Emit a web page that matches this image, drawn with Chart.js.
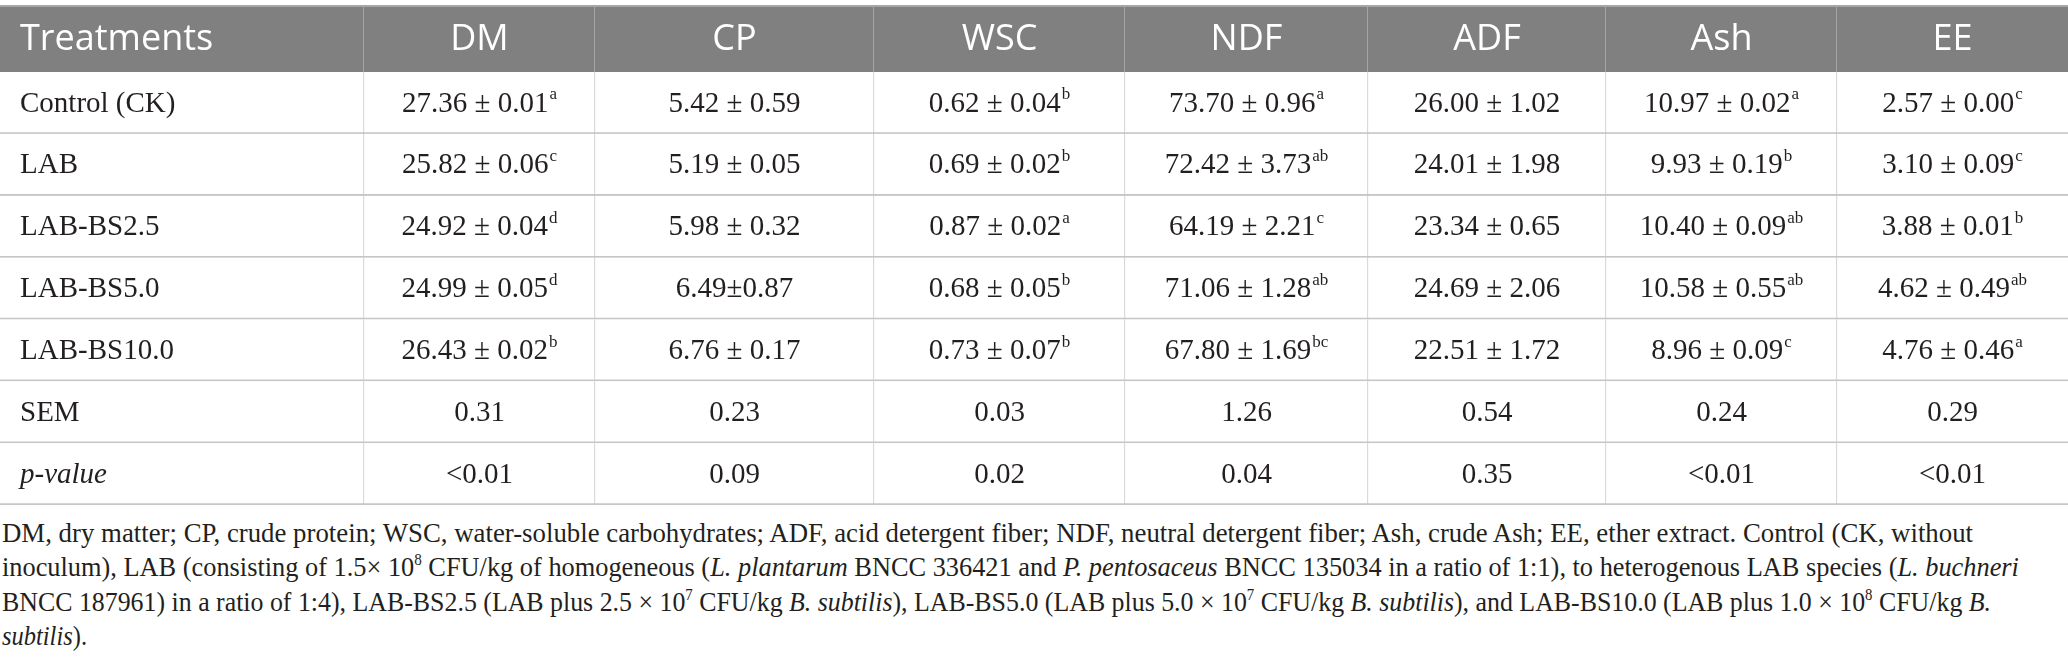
<!DOCTYPE html>
<html>
<head>
<meta charset="utf-8">
<script src="https://cdn.jsdelivr.net/npm/chart.js@4/dist/chart.umd.min.js"></script>
<style>
  html, body { margin: 0; padding: 0; background: #fff; }
  body { width: 2068px; height: 667px; overflow: hidden; position: relative; }
  #wrap { position: absolute; left: 0; top: 0; width: 2068px; height: 506px; }
  .note {
    position: absolute; left: 2px; height: 34px; display: inline-block;
    font-family: 'Liberation Serif', serif; font-size: 28px; line-height: 34px;
    color: #231f20; white-space: nowrap; transform-origin: 0 50%;
  }
  .note sup { font-size: 16px; vertical-align: 11px; line-height: 0; }
</style>
</head>
<body>
<div id="wrap"><canvas id="tableChart"></canvas></div>
<div class="note" style="top:516px">DM, dry matter; CP, crude protein; WSC, water-soluble carbohydrates; ADF, acid detergent fiber; NDF, neutral detergent fiber; Ash, crude Ash; EE, ether extract. Control (CK, without</div>
<div class="note" style="top:550px">inoculum), LAB (consisting of 1.5× 10<sup>8</sup> CFU/kg of homogeneous (<i>L. plantarum</i> BNCC 336421 and <i>P. pentosaceus</i> BNCC 135034 in a ratio of 1:1), to heterogenous LAB species (<i>L. buchneri</i></div>
<div class="note" style="top:585px">BNCC 187961) in a ratio of 1:4), LAB-BS2.5 (LAB plus 2.5 × 10<sup>7</sup> CFU/kg <i>B. subtilis</i>), LAB-BS5.0 (LAB plus 5.0 × 10<sup>7</sup> CFU/kg <i>B. subtilis</i>), and LAB-BS10.0 (LAB plus 1.0 × 10<sup>8</sup> CFU/kg <i>B.</i></div>
<div class="note" style="top:619px"><i>subtilis</i>).</div>
<script>
// ===== table data =====
const columns = ['Treatments', 'DM', 'CP', 'WSC', 'NDF', 'ADF', 'Ash', 'EE'];
const treatments = ['Control (CK)', 'LAB', 'LAB-BS2.5', 'LAB-BS5.0', 'LAB-BS10.0'];

const dmMean = [27.36, 25.82, 24.92, 24.99, 26.43];
const dmSd = [0.01, 0.06, 0.04, 0.05, 0.02];
const dmSig = ['a', 'c', 'd', 'd', 'b'];

const cpMean = [5.42, 5.19, 5.98, 6.49, 6.76];
const cpSd = [0.59, 0.05, 0.32, 0.87, 0.17];
const cpSig = ['', '', '', '', ''];

const wscMean = [0.62, 0.69, 0.87, 0.68, 0.73];
const wscSd = [0.04, 0.02, 0.02, 0.05, 0.07];
const wscSig = ['b', 'b', 'a', 'b', 'b'];

const ndfMean = [73.70, 72.42, 64.19, 71.06, 67.80];
const ndfSd = [0.96, 3.73, 2.21, 1.28, 1.69];
const ndfSig = ['a', 'ab', 'c', 'ab', 'bc'];

const adfMean = [26.00, 24.01, 23.34, 24.69, 22.51];
const adfSd = [1.02, 1.98, 0.65, 2.06, 1.72];
const adfSig = ['', '', '', '', ''];

const ashMean = [10.97, 9.93, 10.40, 10.58, 8.96];
const ashSd = [0.02, 0.19, 0.09, 0.55, 0.09];
const ashSig = ['a', 'b', 'ab', 'ab', 'c'];

const eeMean = [2.57, 3.10, 3.88, 4.62, 4.76];
const eeSd = [0.00, 0.09, 0.01, 0.49, 0.46];
const eeSig = ['c', 'c', 'b', 'ab', 'a'];

const sem = [0.31, 0.23, 0.03, 1.26, 0.54, 0.24, 0.29];
const pValue = ['<0.01', '0.09', '0.02', '0.04', '0.35', '<0.01', '<0.01'];

// the one cell printed without spaces round ±
const compactCells = [['CP', 3]];

// ===== layout =====
const colWidths = [364, 231, 279, 251, 243, 238, 231, 231];
const headTop = 6;      // top edge of the grey header band
const headBottom = 72;  // where the body rows start
const headFill = '#808080';
const headLine = '#a6a6a6';
const bodyLine = '#c6c6c6';
const inkColor = '#231f20';
const noteEnds = [1973, 2019, 1991, 87];  // right end of each footnote line

const means = [dmMean, cpMean, wscMean, ndfMean, adfMean, ashMean, eeMean];
const sds = [dmSd, cpSd, wscSd, ndfSd, adfSd, ashSd, eeSd];
const sigs = [dmSig, cpSig, wscSig, ndfSig, adfSig, ashSig, eeSig];

const rowLabels = [...treatments, 'SEM', 'p-value'];

// body cell text, r = body row, c = column (0 is the label column)
function cellAt(r, c) {
    if (c === 0) return { text: rowLabels[r], italic: rowLabels[r] === 'p-value' };
    const k = c - 1;
    if (r < treatments.length) {
        const compact = compactCells.some(p => p[0] === columns[c] && p[1] === r);
        const pm = compact ? '±' : ' ± ';
        return { text: means[k][r].toFixed(2) + pm + sds[k][r].toFixed(2), sup: sigs[k][r] };
    }
    if (rowLabels[r] === 'SEM') return { text: sem[k].toFixed(2) };
    return { text: pValue[k] };
}

// grey header band, cut into columns by the x scale
const headerRow = {
    id: 'headerRow',
    beforeDatasetsDraw(chart) {
        const ctx = chart.ctx, xs = chart.scales.x;
        ctx.save();
        ctx.fillStyle = headFill;
        ctx.fillRect(xs.left, headTop, xs.right - xs.left, headBottom - headTop);
        ctx.fillStyle = headLine;
        ctx.fillRect(xs.left, headTop - 1, xs.right - xs.left, 2);
        ctx.font = '36px "Open Sans"';
        ctx.textBaseline = 'middle';
        let acc = 0;
        columns.forEach((name, c) => {
            const left = xs.getPixelForValue(acc);
            acc += colWidths[c];
            const right = xs.getPixelForValue(acc);
            if (c < columns.length - 1) {
                ctx.fillStyle = headLine;
                ctx.fillRect(right - 1, headTop, 1, headBottom - headTop);
            }
            ctx.fillStyle = '#ffffff';
            ctx.textAlign = c === 0 ? 'left' : 'center';
            ctx.fillText(name, c === 0 ? left + 20 : (left + right) / 2, (headTop + headBottom) / 2 + 1);
        });
        ctx.restore();
    }
};

const cellText = {
    id: 'cellText',
    afterDatasetsDraw(chart) {
        const ctx = chart.ctx;
        const supFont = '17px "Liberation Serif"';
        ctx.save();
        ctx.textBaseline = 'middle';
        ctx.textAlign = 'left';
        ctx.fillStyle = inkColor;
        chart.data.datasets.forEach((ds, c) => {
            chart.getDatasetMeta(c).data.forEach((bar, r) => {
                const left = Math.min(bar.x, bar.base);
                const right = Math.max(bar.x, bar.base);
                const cell = cellAt(r, c);
                const font = (cell.italic ? 'italic ' : '') + '29px "Liberation Serif"';
                ctx.font = font;
                const tw = ctx.measureText(cell.text).width;
                let sw = 0;
                if (cell.sup) {
                    ctx.font = supFont;
                    sw = ctx.measureText(cell.sup).width + 1;
                }
                const x = c === 0 ? left + 20 : (left + right) / 2 - (tw + sw) / 2;
                const y = bar.y + 1;
                ctx.font = font;
                ctx.fillText(cell.text, x, y);
                if (cell.sup) {
                    ctx.font = supFont;
                    ctx.fillText(cell.sup, x + tw + 1, y - 9);
                }
            });
        });
        ctx.restore();
    }
};

function drawTable() {
    const ctx = document.getElementById('tableChart').getContext('2d');
    new Chart(ctx, {
        type: 'bar',
        data: {
            labels: rowLabels,
            datasets: columns.map((name, c) => ({
                label: name,
                data: rowLabels.map(() => colWidths[c]),
                backgroundColor: '#ffffff',
                borderColor: bodyLine,
                borderWidth: {
                    top: 0,
                    right: c < columns.length - 1 ? 1 : 0,
                    bottom: 2,
                    left: 0
                },
                borderSkipped: false,
                barPercentage: 1,
                categoryPercentage: 1
            }))
        },
        options: {
            indexAxis: 'y',
            responsive: true,
            maintainAspectRatio: false,
            animation: false,
            layout: { padding: { top: headBottom, bottom: 1, left: 0, right: 0 } },
            plugins: {
                legend: { display: false },
                tooltip: { enabled: false }
            },
            scales: {
                x: { type: 'linear', stacked: true, display: false, min: 0, max: colWidths.reduce((a, b) => a + b, 0) },
                y: { type: 'category', stacked: true, display: false }
            }
        },
        plugins: [headerRow, cellText]
    });

    // stretch or squeeze each footnote line to the width it has in the original
    document.querySelectorAll('.note').forEach((el, i) => {
        const w = el.getBoundingClientRect().width;
        el.style.transform = 'scaleX(' + ((noteEnds[i] - 2) / w).toFixed(4) + ')';
    });
}

Promise.all([
    document.fonts.load('36px "Open Sans"'),
    document.fonts.load('29px "Liberation Serif"'),
    document.fonts.load('italic 29px "Liberation Serif"')
]).then(drawTable, drawTable);
</script>
</body>
</html>
